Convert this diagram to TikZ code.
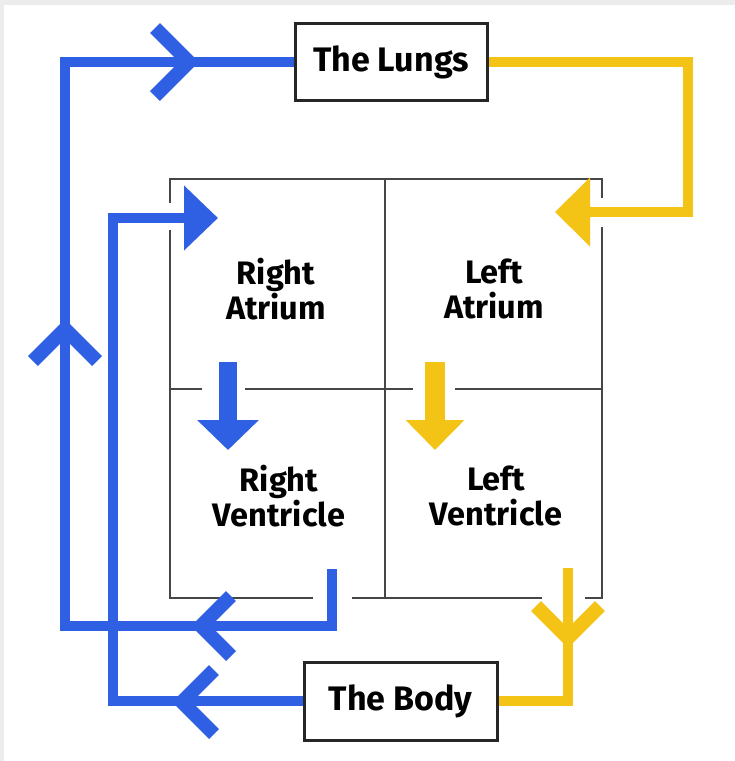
\documentclass[tikz,border=0pt]{standalone}
\usepackage{fontspec}
\setmainfont{Fira Sans}
\usetikzlibrary{arrows.meta}
\definecolor{hblue}{RGB}{47,96,228}
\definecolor{hyellow}{RGB}{243,195,22}
\definecolor{hline}{RGB}{70,70,70}
\definecolor{edgegray}{RGB}{236,236,236}
\begin{document}
\begin{tikzpicture}[x=1pt,y=-1pt,
  bluepath/.style={draw=hblue,line width=10pt},
  yellowpath/.style={draw=hyellow,line width=10pt},
  chevblue/.style={draw=hblue,line width=14pt},
  chevyellow/.style={draw=hyellow,line width=14pt},
  heartline/.style={draw=hline,line width=2.5pt},
  organ/.style={draw=black!85,line width=3pt,minimum width=192pt,minimum height=77pt,inner sep=0pt,font=\fontsize{34}{38}\selectfont\bfseries},
  chamber/.style={align=center,inner sep=0pt,font=\fontsize{32.5}{35}\selectfont\bfseries},
]
\useasboundingbox (0,0) rectangle (735,761);
\fill[edgegray] (0,0) rectangle (735,5);
\fill[edgegray] (0,0) rectangle (4,761);

% heart outline with gaps
\draw[heartline] (170,203) -- (170,179) -- (602,179) -- (602,198);
\draw[heartline] (602,227) -- (602,598) -- (585,598);
\draw[heartline] (542,598) -- (352,598);
\draw[heartline] (313,598) -- (170,598) -- (170,230);
\draw[heartline] (385,179) -- (385,598);
\draw[heartline] (170,389) -- (202,389);
\draw[heartline] (245,389) -- (413,389);
\draw[heartline] (455,389) -- (602,389);

% nodes
\node[organ] (lungs) at (391,62) {The Lungs};
\node[organ,minimum width=193pt,minimum height=78pt] (body) at (400.5,701) {The Body};
\node[chamber] (ra) at (276,289) {Right\\Atrium};
\node[chamber] (la) at (494,289) {Left\\Atrium};
\node[chamber] (rv) at (279,496) {Right\\Ventricle};
\node[chamber] (lv) at (496,496) {Left\\Ventricle};

\coordinate (rvout) at (332,569);
\coordinate (lvout) at (568,568);
\coordinate (ratip) at (218,218);
\coordinate (latip) at (555,212);
\coordinate (rastart) at (228,362);
\coordinate (raend) at (228,450);
\coordinate (lastart) at (435,362);
\coordinate (laend) at (435,450);

% blood paths
\draw[bluepath] (rvout) |- (65,626) |- (lungs.west);
\draw[bluepath,-{Triangle[length=34pt,width=63pt]}] (body.west) -| (113,218) -- (ratip);
\draw[yellowpath,-{Triangle[length=35pt,width=67pt]}] (lungs.east) -| (688,212) -- (latip);
\draw[yellowpath] (lvout) |- (body.east);
\draw[draw=hblue,line width=18pt,-{Triangle[length=30pt,width=60pt]}] (rastart) -- (raend);
\draw[draw=hyellow,line width=20pt,-{Triangle[length=30pt,width=57pt]}] (lastart) -- (laend);

% chevrons
\draw[chevblue] (155,28) -- (189,62) -- (155,96);
\draw[chevblue] (33,361) -- (65,329) -- (97,361);
\draw[chevblue] (231,596) -- (201,626) -- (231,656);
\draw[chevblue] (214,670) -- (182,702) -- (214,734);
\draw[chevyellow] (536,606) -- (568,638) -- (600,606);
\end{tikzpicture}
\end{document}
